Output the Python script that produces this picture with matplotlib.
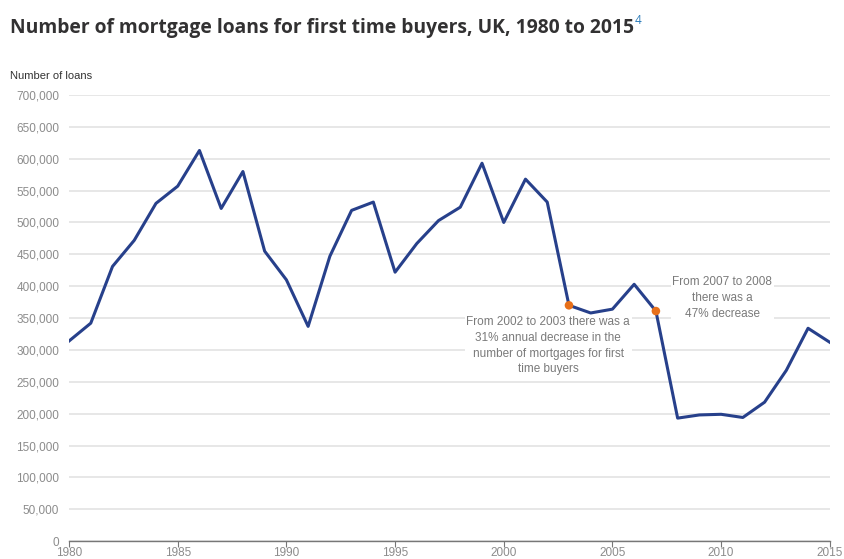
import matplotlib
matplotlib.use("Agg")
import matplotlib.pyplot as plt
from matplotlib.ticker import FuncFormatter, MultipleLocator

years = list(range(1980, 2016))
loans = [314000, 342000, 431000, 472000, 530000, 557000, 613000, 522000, 580000, 455000,
         410000, 337000, 447000, 519000, 532000, 422000, 467000, 503000, 524000, 593000,
         500000, 568000, 532000, 370000, 358000, 364000, 403000, 361000, 193000, 198000,
         199000, 194000, 218000, 268000, 334000, 312000]
highlight_years = [2003, 2007]

line_color = "#27408b"
dot_color = "#e8701a"
grid_color = "#e3e3e3"
tick_color = "#8c8c8c"
note_color = "#7a7a7a"
narrow = ["Liberation Sans", "DejaVu Sans"]

fig = plt.figure(figsize=(8.45, 5.59), dpi=100)
ax = fig.add_axes([0.0817, 0.032, 0.9003, 0.798])

ax.plot(years, loans, color=line_color, linewidth=2.2, zorder=3)
hv = [loans[years.index(y)] for y in highlight_years]
ax.scatter(highlight_years, hv, color=dot_color, s=38, zorder=4, edgecolors="none")

ax.set_xlim(1980, 2015)
ax.set_ylim(0, 700000)
ax.yaxis.set_major_locator(MultipleLocator(50000))
ax.xaxis.set_major_locator(MultipleLocator(5))
ax.yaxis.set_major_formatter(FuncFormatter(lambda v, p: f"{int(v):,}"))
ax.grid(axis="y", color=grid_color, linewidth=1.2)
ax.set_axisbelow(True)
for s in ["top", "right", "left"]:
    ax.spines[s].set_visible(False)
ax.spines["bottom"].set_color("#777777")
ax.spines["bottom"].set_linewidth(1.0)
ax.tick_params(axis="y", length=0, pad=7, labelcolor=tick_color, labelsize=8.5)
ax.tick_params(axis="x", length=4, color="#777777", pad=0, labelcolor=tick_color, labelsize=8.5)
for lab in ax.get_xticklabels() + ax.get_yticklabels():
    lab.set_family(narrow)

ax.text(2002.05, 353000, "From 2002 to 2003 there was a\n31% annual decrease in the\nnumber of mortgages for first\ntime buyers",
        ha="center", va="top", fontsize=8.5, color=note_color, family=narrow, linespacing=1.42,
        bbox=dict(facecolor="white", edgecolor="none", pad=1), zorder=2)
ax.text(2010.05, 416000, "From 2007 to 2008\nthere was a\n47% decrease",
        ha="center", va="top", fontsize=8.5, color=note_color, family=narrow, linespacing=1.42,
        bbox=dict(facecolor="white", edgecolor="none", pad=1), zorder=2)

title = fig.text(10 / 845, 1 - 33 / 559, "Number of mortgage loans for first time buyers, UK, 1980 to 2015",
                 fontsize=13.9, fontweight="bold", color="#323132", family=["Open Sans", "DejaVu Sans"],
                 ha="left", va="baseline")
# put the footnote marker right after the title
fig.canvas.draw()
bb = title.get_window_extent()
fig.text(bb.x1 / 845 + 1 / 845, 1 - 24 / 559, "4", fontsize=8.5, color="#2a7ab8",
         family=["Open Sans", "DejaVu Sans"], ha="left", va="baseline")
fig.text(10 / 845, 1 - 79 / 559, "Number of loans", fontsize=8, color="#333333",
         family=narrow, ha="left", va="baseline")

fig.savefig("out.png", dpi=100)
